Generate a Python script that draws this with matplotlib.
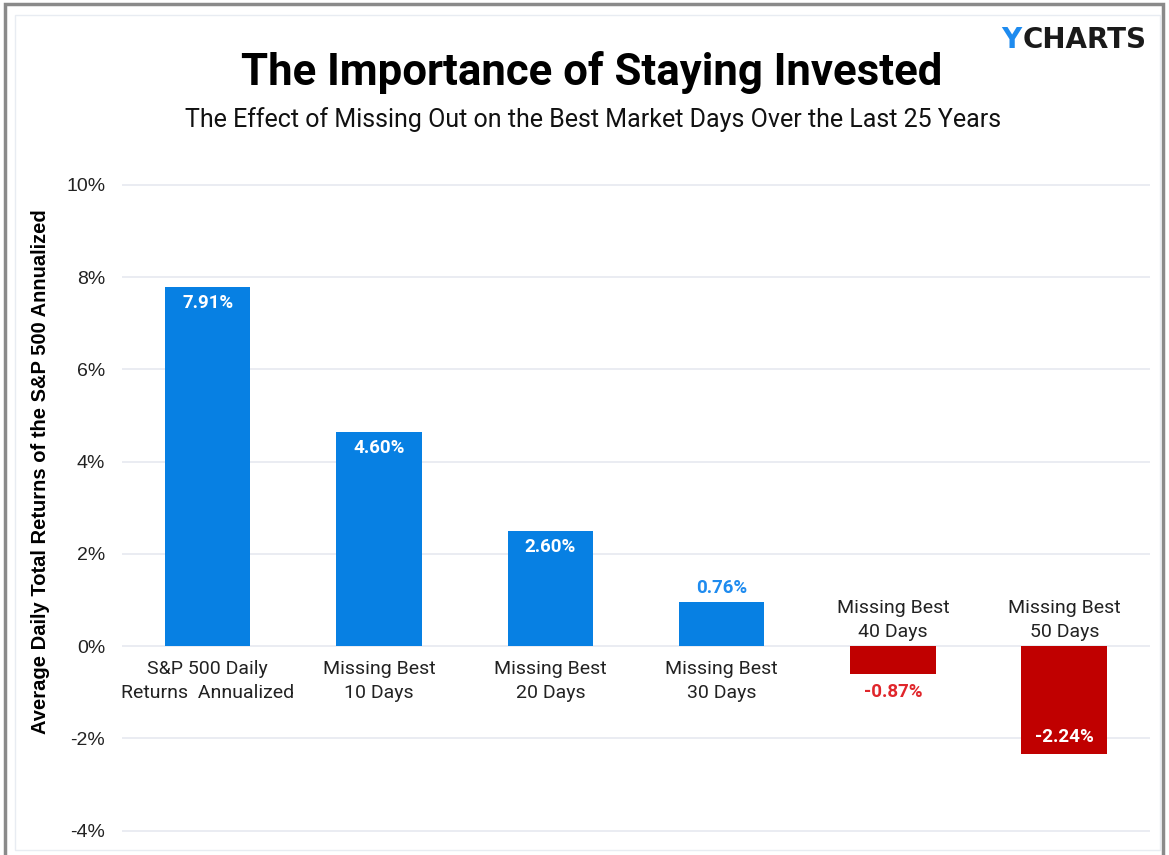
import matplotlib.pyplot as plt
from matplotlib.patches import Rectangle

# data
categories = ["S&P 500 Daily\nReturns  Annualized", "Missing Best\n10 Days", "Missing Best\n20 Days",
              "Missing Best\n30 Days", "Missing Best\n40 Days", "Missing Best\n50 Days"]
bar_heights = [7.78, 4.64, 2.49, 0.95, -0.61, -2.34]
value_labels = ["7.91%", "4.60%", "2.60%", "0.76%", "-0.87%", "-2.24%"]
label_inside = [True, True, True, False, False, True]
y_ticks = [-4, -2, 0, 2, 4, 6, 8, 10]

BLUE = '#0780E3'
RED = '#C00000'

plt.rcParams['font.family'] = ['Roboto', 'DejaVu Sans']

fig = plt.figure(figsize=(11.69, 8.55), dpi=100)
ax = fig.add_axes([122 / 1169, 1 - 850 / 855, 1028 / 1169, (850 - 178) / 855])

colors = [BLUE if v >= 0 else RED for v in bar_heights]
x = list(range(len(categories)))
ax.bar(x, bar_heights, width=0.5, color=colors, zorder=3)

ax.set_xlim(-0.5, 5.5)
ax.set_ylim(-4.42, 10.15)
ax.set_yticks(y_ticks)
ax.set_yticklabels([f"{t}%" for t in y_ticks], fontsize=14, color='#222222',
                   family='Liberation Sans')
ax.set_xticks([])
ax.tick_params(axis='y', length=0, pad=12)
ax.grid(axis='y', color='#E6E9F0', linewidth=1.2, zorder=0)
for s in ax.spines.values():
    s.set_visible(False)

ax.set_ylabel("Average Daily Total Returns of the S&P 500 Annualized", fontsize=14.5,
              fontweight='bold', family='Liberation Sans')
ax.yaxis.set_label_coords(-0.070, 0.5625)

for i, (v, lab, inside) in enumerate(zip(bar_heights, value_labels, label_inside)):
    # category names: under the zero line for gains, above it for losses
    if v >= 0:
        ax.annotate(categories[i], (i, 0), xytext=(0, -10), textcoords='offset points',
                    ha='center', va='top', fontsize=14, color='#222222', linespacing=1.4)
    else:
        ax.annotate(categories[i], (i, 0), xytext=(0, 4), textcoords='offset points',
                    ha='center', va='bottom', fontsize=14, color='#222222', linespacing=1.4)
    # value labels
    if inside:
        off = -5 if v >= 0 else 6
        ax.annotate(lab, (i, v), xytext=(0, off), textcoords='offset points',
                    ha='center', va='top' if v >= 0 else 'bottom', fontsize=13.5,
                    fontweight='bold', color='white', zorder=4)
    elif v >= 0:
        ax.annotate(lab, (i, v), xytext=(0, 4), textcoords='offset points',
                    ha='center', va='bottom', fontsize=13.5, fontweight='bold', color='#1E8BEF')
    else:
        ax.annotate(lab, (i, v), xytext=(0, -6), textcoords='offset points',
                    ha='center', va='top', fontsize=13.5, fontweight='bold', color='#E0262B')

# titles and brand
fig.text(592 / 1169, 1 - 73 / 855, "The Importance of Staying Invested", ha='center', va='center',
         fontsize=31.5, fontweight='bold', color='black')
fig.text(593 / 1169, 1 - 120 / 855, "The Effect of Missing Out on the Best Market Days Over the Last 25 Years",
         ha='center', va='center', fontsize=18, color='#111111')
fig.text(1023 / 1169, 1 - 40 / 855, "CHARTS", ha='left', va='center', fontsize=20,
         fontweight='bold', color='#1A1A1A', family='DejaVu Sans')
fig.text(1001 / 1169, 1 - 40 / 855, "Y", ha='left', va='center', fontsize=20,
         fontweight='bold', color='#1E8BEF', family='DejaVu Sans')

# frame around the picture
fig.patches.append(Rectangle((5 / 1169, -0.1), (1163 - 5) / 1169, 1.1 - 4 / 855, transform=fig.transFigure,
                             fill=False, edgecolor='#8A8A8A', linewidth=2.5))
fig.patches.append(Rectangle((15 / 1169, 1 - 850 / 855), (1160 - 15) / 1169, (850 - 15) / 855,
                             transform=fig.transFigure, fill=False, edgecolor='#E8ECF2', linewidth=1))

fig.savefig('out.png', dpi=100)
